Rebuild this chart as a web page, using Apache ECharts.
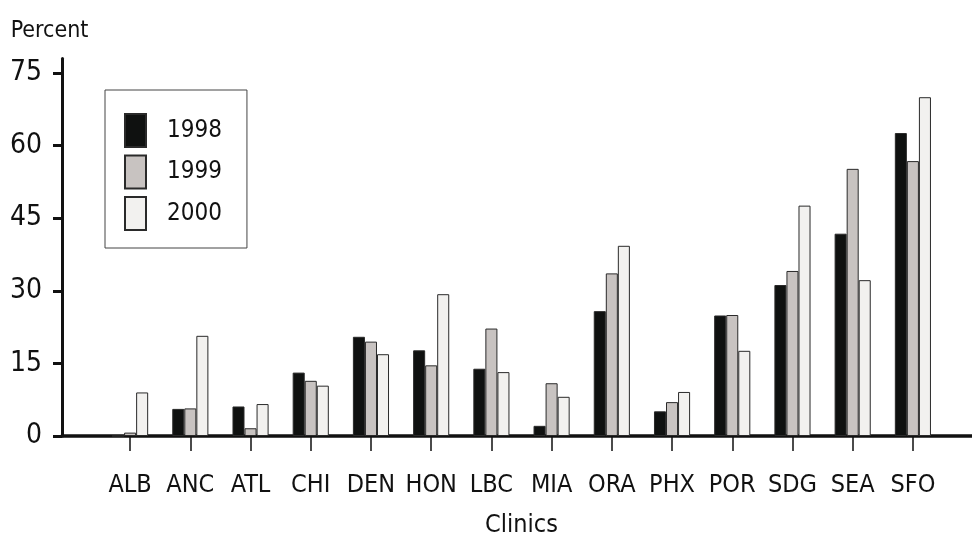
<!DOCTYPE html>
<html>
<head>
<meta charset="utf-8">
<script src="https://cdn.jsdelivr.net/npm/echarts@6/dist/echarts.min.js"></script>
<style>
	html, body { margin: 0; padding: 0; background: #ffffff; }
	#chart { width: 972px; height: 538px; }
</style>
</head>
<body>
<div id="chart"></div>
<script>
// 数据
const clinics = ['ALB', 'ANC', 'ATL', 'CHI', 'DEN', 'HON', 'LBC', 'MIA', 'ORA', 'PHX', 'POR', 'SDG', 'SEA', 'SFO'];
const years = ['1998', '1999', '2000'];
const pct1998 = [0, 5.6, 6.1, 13.1, 20.5, 17.7, 13.9, 2.1, 25.8, 5.1, 24.9, 31.2, 41.8, 62.6];
const pct1999 = [0.7, 5.7, 1.6, 11.4, 19.5, 14.6, 22.2, 10.9, 33.6, 7.0, 25.0, 34.1, 55.2, 56.8];
const pct2000 = [9.0, 20.7, 6.6, 10.4, 16.9, 29.3, 13.2, 8.1, 39.3, 9.1, 17.6, 47.6, 32.2, 70.0];
const yTicks = [0, 15, 30, 45, 60, 75];

const font = "'DejaVu Sans Condensed', 'Liberation Sans Narrow', sans-serif";
const ink = '#111111';

function makeBar(name, data, color) {
	return {
		name: name,
		type: 'bar',
		data: data,
		barGap: 0,
		barCategoryGap: '40%',
		itemStyle: {
			color: color,
			borderColor: '#2a2a2a',
			borderWidth: 1
		}
	};
}

const chart = echarts.init(document.getElementById('chart'));
const option = {
	animation: false,
	textStyle: { fontFamily: font, color: ink },
	legend: {
		orient: 'vertical',
		left: 105,
		top: 90,
		padding: [23, 25, 17, 19],
		icon: 'rect',
		itemWidth: 21,
		itemHeight: 33,
		itemGap: 6.5,
		borderColor: '#444',
		borderWidth: 1,
		data: years,
		textStyle: {
			fontFamily: font,
			fontSize: 24,
			color: ink,
			padding: [0, 0, 0, 16]
		}
	},
	grid: [
		// 柱状图区域
		{ left: 100, right: 29, top: 58.5, bottom: 102, outerBoundsMode: 'none' },
		// 只用来画完整的 x 轴线
		{ left: 62, right: 0, top: 58.5, bottom: 102, outerBoundsMode: 'none' }
	],
	xAxis: [{
		type: 'category',
		gridIndex: 0,
		data: clinics,
		name: 'Clinics',
		nameLocation: 'middle',
		nameGap: 77,
		nameTextStyle: { fontFamily: font, fontSize: 25, color: ink },
		axisLine: { show: false },
		axisTick: {
			show: true,
			alignWithLabel: true,
			length: 15,
			lineStyle: { color: ink, width: 1.5 }
		},
		axisLabel: {
			interval: 0,
			margin: 37,
			fontFamily: font,
			fontSize: 25,
			color: ink
		},
		splitLine: { show: false }
	}, {
		type: 'value',
		gridIndex: 1,
		min: 0,
		max: 1,
		axisLine: { show: true, lineStyle: { color: ink, width: 3.5 } },
		axisTick: { show: false },
		axisLabel: { show: false },
		splitLine: { show: false }
	}],
	yAxis: [{
		type: 'value',
		gridIndex: 0,
		min: 0,
		max: 78,
		offset: 38,
		name: 'Percent',
		nameLocation: 'end',
		nameGap: 16,
		nameTextStyle: {
			fontFamily: font,
			fontSize: 23,
			color: ink,
			padding: [0, 25, 0, 0]
		},
		axisLine: { show: true, lineStyle: { color: ink, width: 3 } },
		axisTick: {
			show: true,
			length: 9,
			customValues: yTicks,
			lineStyle: { color: ink, width: 3 }
		},
		axisLabel: {
			margin: 20,
			customValues: yTicks,
			fontFamily: font,
			fontSize: 28,
			color: ink
		},
		splitLine: { show: false }
	}, {
		type: 'value',
		gridIndex: 1,
		show: false,
		min: 0,
		max: 78
	}],
	series: [
		makeBar(years[0], pct1998, '#0f1110'),
		makeBar(years[1], pct1999, '#c8c3c1'),
		makeBar(years[2], pct2000, '#f2f1ef')
	]
};
chart.setOption(option);
</script>
</body>
</html>
